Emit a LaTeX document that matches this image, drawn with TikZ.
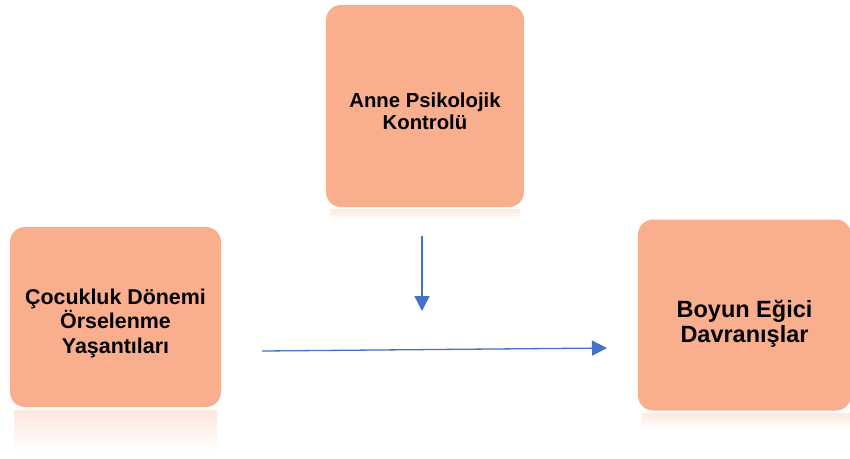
\documentclass[tikz,border=0pt]{standalone}
\usepackage{fontspec}
\setmainfont{Liberation Sans}
\usetikzlibrary{arrows.meta}
\definecolor{boxfill}{RGB}{249,174,142}
\definecolor{reflfill}{RGB}{253,232,222}
\definecolor{arrowblue}{RGB}{68,114,196}
\tikzset{
  varbox/.style={fill=boxfill, rounded corners=15pt, inner sep=0pt},
  vartext/.style={align=center, inner sep=0pt},
  flow/.style={draw=arrowblue, line width=1.3pt, -{Triangle[length=15pt,width=15pt]}},
  refl/.style={top color=reflfill, bottom color=white, draw=none}
}
\begin{document}
\begin{tikzpicture}[x=1pt,y=-1pt]
\useasboundingbox (0,0) rectangle (850,458);
\clip (0,0) rectangle (850,458);
% reflections
\shade[refl] (14,410) rectangle (217,452);
\shade[refl] (330,209) rectangle (520,220);
\shade[refl] (642,413) rectangle (850,428);
% boxes
\node[varbox, minimum width=198pt, minimum height=202pt] (anne) at (425,106) {};
\node[vartext, font=\bfseries\fontsize{20.3}{22.5}\selectfont] (anneT) at (425,111)
      {Anne Psikolojik\\Kontrolü};
\node[varbox, minimum width=211pt, minimum height=180pt] (cocuk) at (115.5,317) {};
\node[vartext, font=\bfseries\fontsize{21.4}{24.5}\selectfont] (cocukT) at (115.5,323)
      {Çocukluk Dönemi\\Örselenme\\Yaşantıları};
\node[varbox, minimum width=213pt, minimum height=191pt] (boyun) at (744.5,315) {};
\node[vartext, font=\bfseries\fontsize{23.5}{25}\selectfont] (boyunT) at (744.5,324)
      {Boyun Eğici\\Davranışlar};
% connectors
\coordinate (dstart) at (422,236);
\coordinate (dend) at (422,311);
\coordinate (hstart) at (262,351);
\coordinate (hend) at (607,348);
\draw[flow] (dstart) -- (dend);
\draw[flow] (hstart) -- (hend);
\end{tikzpicture}
\end{document}
